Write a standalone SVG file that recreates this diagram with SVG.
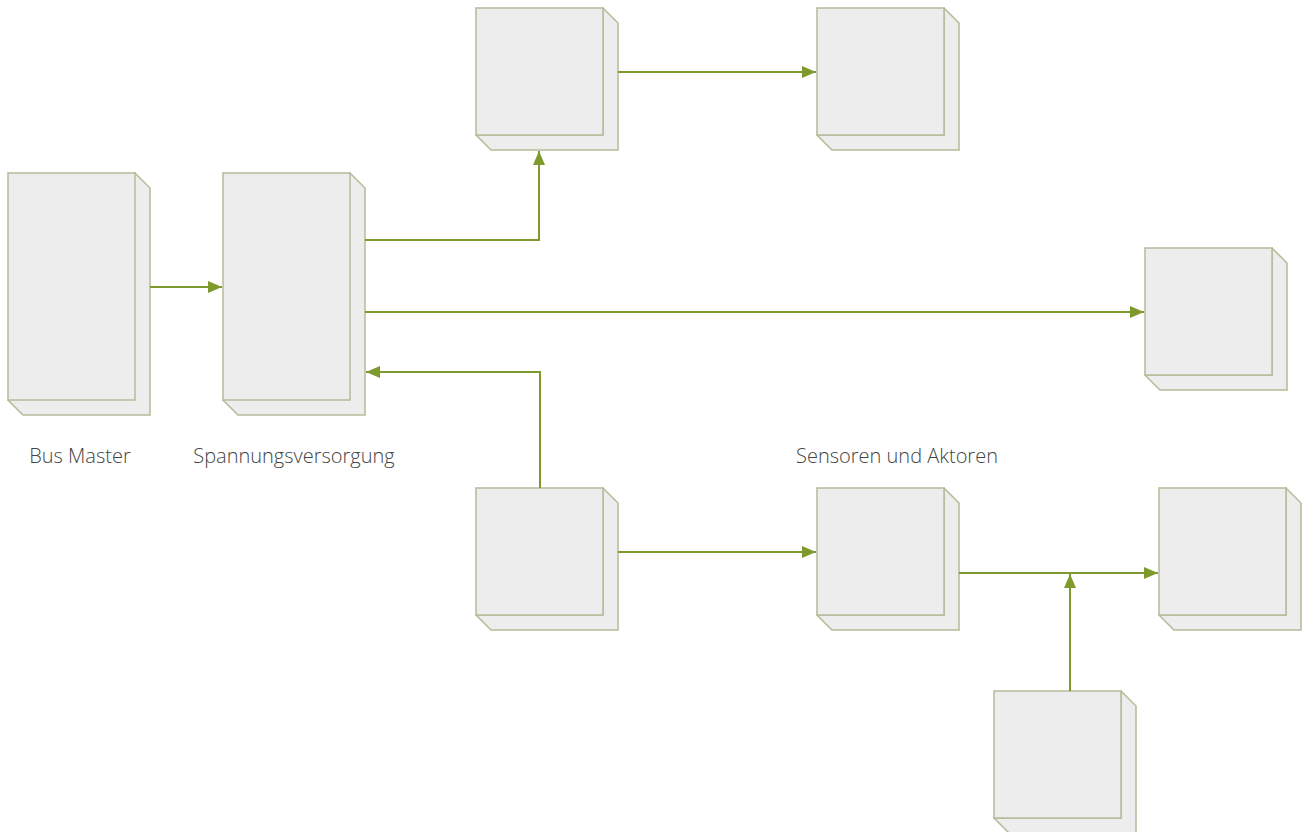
<svg xmlns="http://www.w3.org/2000/svg" width="1305" height="832" viewBox="0 0 1305 832">
<style>
.f{fill:#ededed;stroke:#b7bb98;stroke-width:1.5}
.c{fill:none;stroke:#7f9a2c;stroke-width:2}
.t{font-family:"Open Sans","Liberation Sans",sans-serif;font-weight:300;font-size:20px;fill:#444;text-anchor:middle}
</style>
<defs>
<marker id="a" viewBox="0 0 14 12" refX="14" refY="6" markerWidth="14" markerHeight="12" markerUnits="userSpaceOnUse" orient="auto"><path d="M0,0L14,6L0,12z" fill="#7f9a2c"/></marker>
<g id="box">
<path class="f" d="M127,0L142,15L142,142L15,142L0,127Z"/>
<path class="f" d="M127,0L127,127L0,127"/>
<rect class="f" x="0" y="0" width="127" height="127"/>
</g>
</defs>
<rect width="1305" height="832" fill="#fff"/>
<g id="busmaster">
<path class="f" d="M135,173L150,188L150,415L23,415L8,400Z"/>
<rect class="f" x="8" y="173" width="127" height="227"/>
<text class="t" x="80" y="463">Bus Master</text>
</g>
<g id="spannung">
<path class="f" d="M350,173L365,188L365,415L238,415L223,400Z"/>
<rect class="f" x="223" y="173" width="127" height="227"/>
<text class="t" x="294" y="463">Spannungsversorgung</text>
</g>
<g id="top1"><use href="#box" x="476" y="8"/></g>
<g id="top2"><use href="#box" x="817" y="8"/></g>
<g id="right1"><use href="#box" x="1145" y="248"/></g>
<g id="bot1"><use href="#box" x="476" y="488"/></g>
<g id="bot2"><use href="#box" x="817" y="488"/></g>
<g id="bot3"><use href="#box" x="1159" y="488"/></g>
<g id="bot4"><use href="#box" x="994" y="691"/></g>
<g id="label-sensoren"><text class="t" x="897" y="463">Sensoren und Aktoren</text></g>
<g id="connectors">
<path class="c" d="M150,287H222" marker-end="url(#a)"/>
<path class="c" d="M365,240H539V151" marker-end="url(#a)"/>
<path class="c" d="M365,312H1144" marker-end="url(#a)"/>
<path class="c" d="M540,488V372H366" marker-end="url(#a)"/>
<path class="c" d="M618,72H816" marker-end="url(#a)"/>
<path class="c" d="M618,552H816" marker-end="url(#a)"/>
<path class="c" d="M959,573H1158" marker-end="url(#a)"/>
<path class="c" d="M1070,691V574" marker-end="url(#a)"/>
</g>
</svg>
